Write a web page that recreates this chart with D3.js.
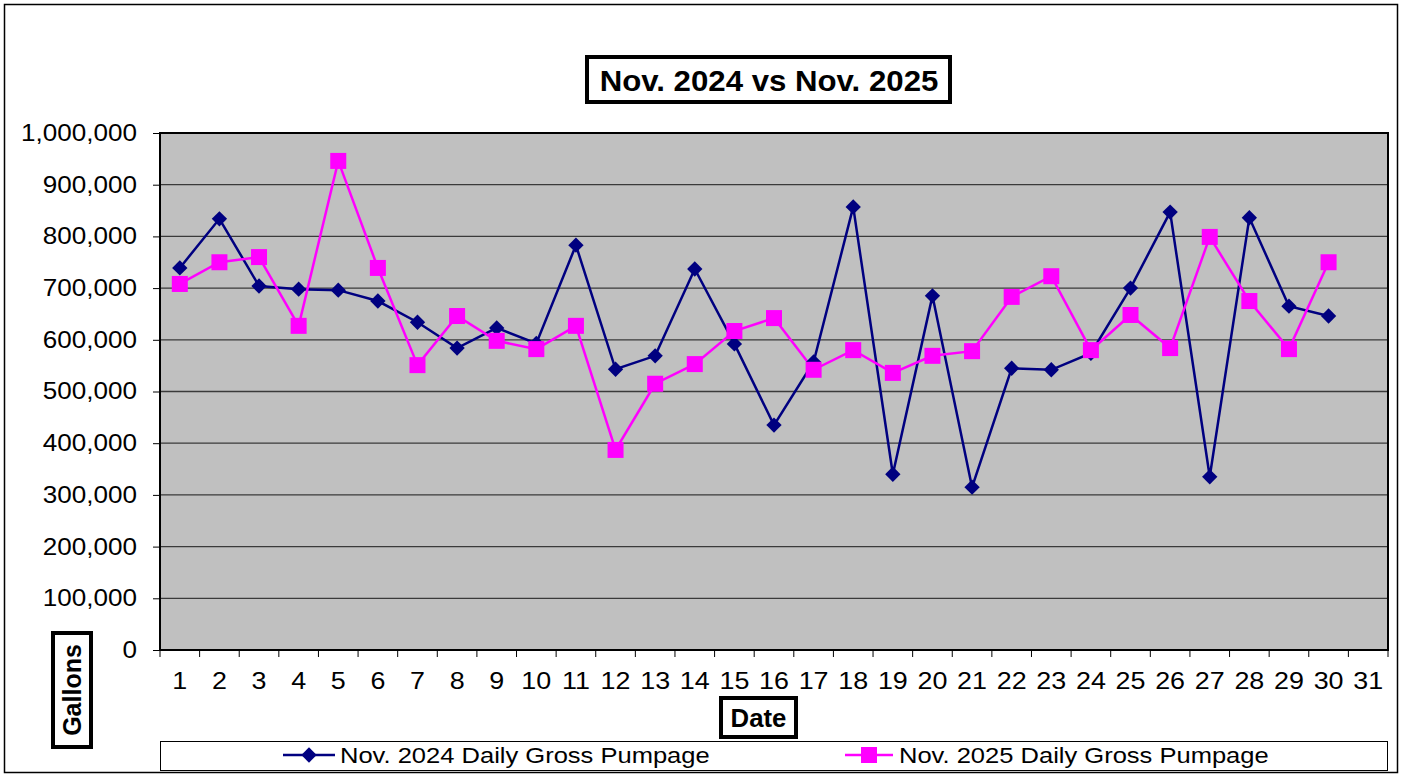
<!DOCTYPE html>
<html><head><meta charset="utf-8">
<script src="https://cdn.jsdelivr.net/npm/d3@7"></script>
<style>body{margin:0;background:#fff}svg{display:block;font-family:"Liberation Sans",Arial,sans-serif}</style>
</head><body><svg id="c" width="1403" height="777"></svg>
<script>
const days = d3.range(1, 32);
const dates2024 = d3.range(1, 31);
const values2024 = [739000,834000,704000,698000,696000,675000,634000,584000,623000,593000,783000,543000,569000,737000,592000,435000,557000,857000,340000,685000,315000,545000,542000,574000,700000,847000,335000,836000,665000,646000];
const values2025 = [708000,750000,760000,627000,946000,739000,551000,646000,598000,582000,627000,387000,515000,553000,617000,642000,542000,580000,536000,569000,578000,683000,723000,580000,648000,584000,799000,675000,582000,750000];
const yTicks = [0,100000,200000,300000,400000,500000,600000,700000,800000,900000,1000000];
const title = "Nov. 2024 vs Nov. 2025";
const seriesNames = ["Nov. 2024 Daily Gross Pumpage","Nov. 2025 Daily Gross Pumpage"];

const SX = 1.12;
const svg = d3.select("#c");
const L=160,R=1388,T=133,B=650;
svg.append("rect").attr("x",4.5).attr("y",4.5).attr("width",1393).attr("height",768).attr("fill","#fff").attr("stroke","#000").attr("stroke-width",1.5);

const x = d3.scaleBand().domain(days).range([L,R]).paddingInner(0).paddingOuter(0);
const y = d3.scaleLinear().domain([0,1000000]).range([B,T]);

svg.append("rect").attr("x",L).attr("y",T).attr("width",R-L).attr("height",B-T).attr("fill","#c0c0c0");
svg.append("g").selectAll("line").data(yTicks.filter(d=>d>0)).join("line")
  .attr("x1",L).attr("x2",R).attr("y1",d=>y(d)).attr("y2",d=>y(d)).attr("stroke","#3a3a3a").attr("stroke-width",1.3);
svg.append("rect").attr("x",L).attr("y",T).attr("width",R-L).attr("height",B-T).attr("fill","none").attr("stroke","#000").attr("stroke-width",2);

// y axis
const fmt = d3.format(",");
const ya = svg.append("g").attr("transform",`translate(${L},0)`)
  .call(d3.axisLeft(y).tickValues(yTicks).tickFormat(d=>fmt(d)).tickSize(7).tickPadding(16));
ya.select(".domain").remove();
ya.selectAll("text").attr("font-size",23.3).attr("font-family","Liberation Sans, Arial").attr("fill","#000")
  .attr("x",-23/SX).attr("transform",`scale(${SX},1)`);
ya.selectAll("line").attr("stroke","#000");

// x axis
const xa = svg.append("g").attr("transform",`translate(0,${B})`)
  .call(d3.axisBottom(x).tickSize(0).tickPadding(22));
xa.select(".domain").remove();
xa.selectAll("text").attr("font-size",24).attr("font-family","Liberation Sans, Arial").attr("fill","#000")
  .attr("transform",`scale(${SX},1)`);
svg.append("g").selectAll("line").data(days).join("line")
  .attr("x1",d=>x(d)).attr("x2",d=>x(d)).attr("y1",B).attr("y2",B+7).attr("stroke","#000");
svg.append("line").attr("x1",R).attr("x2",R).attr("y1",B).attr("y2",B+7).attr("stroke","#000");

const cx = d=>x(d)+x.bandwidth()/2;
const line = d3.line().x(d=>cx(d[0])).y(d=>y(d[1]));
const d24 = dates2024.map((d,i)=>[d,values2024[i]]);
const d25 = dates2024.map((d,i)=>[d,values2025[i]]);

svg.append("path").datum(d24).attr("d",line).attr("fill","none").attr("stroke","#000080").attr("stroke-width",2.5);
svg.append("path").datum(d25).attr("d",line).attr("fill","none").attr("stroke","#ff00ff").attr("stroke-width",2.5);
const diamond = d3.symbol().type(d3.symbolDiamond2).size(150);
svg.append("g").selectAll("path").data(d24).join("path")
  .attr("d",diamond).attr("transform",d=>`translate(${cx(d[0])},${y(d[1])})`).attr("fill","#000080");
svg.append("g").selectAll("rect").data(d25).join("rect")
  .attr("x",d=>cx(d[0])-8).attr("y",d=>y(d[1])-8).attr("width",16).attr("height",16).attr("fill","#ff00ff");

function stext(x0, y0, str, size, anchor, bold, sx){
  return svg.append("text").attr("transform",`translate(${x0},${y0}) scale(${sx||SX},1)`)
    .attr("text-anchor",anchor).attr("font-size",size).attr("font-weight",bold?"bold":"normal").text(str);
}

// title
svg.append("rect").attr("x",587).attr("y",57).attr("width",363).attr("height",45).attr("fill","#fff").attr("stroke","#000").attr("stroke-width",4);
stext(769, 91, title, 30, "middle", true, 1.04);

// axis titles
svg.append("rect").attr("x",53).attr("y",633).attr("width",38).attr("height",114).attr("fill","#fff").attr("stroke","#000").attr("stroke-width",4);
svg.append("text").attr("transform","translate(81,690) rotate(-90)").attr("text-anchor","middle").attr("font-size",25).attr("font-weight","bold").text("Gallons");
svg.append("rect").attr("x",721).attr("y",698).attr("width",75).attr("height",39).attr("fill","#fff").attr("stroke","#000").attr("stroke-width",4);
stext(758.5, 727, "Date", 25, "middle", true, 1.03);

// legend
svg.append("rect").attr("x",160.5).attr("y",741.5).attr("width",1227).attr("height",29).attr("fill","#fff").attr("stroke","#000").attr("stroke-width",1);
svg.append("line").attr("x1",283).attr("x2",335).attr("y1",755).attr("y2",755).attr("stroke","#000080").attr("stroke-width",2.5);
svg.append("path").attr("d",diamond).attr("transform","translate(309,755)").attr("fill","#000080");
stext(340, 763, seriesNames[0], 22.8, "start", false);
svg.append("line").attr("x1",845).attr("x2",893).attr("y1",755).attr("y2",755).attr("stroke","#ff00ff").attr("stroke-width",2.5);
svg.append("rect").attr("x",861).attr("y",747).attr("width",16).attr("height",16).attr("fill","#ff00ff");
stext(899, 763, seriesNames[1], 22.8, "start", false);
</script></body></html>
